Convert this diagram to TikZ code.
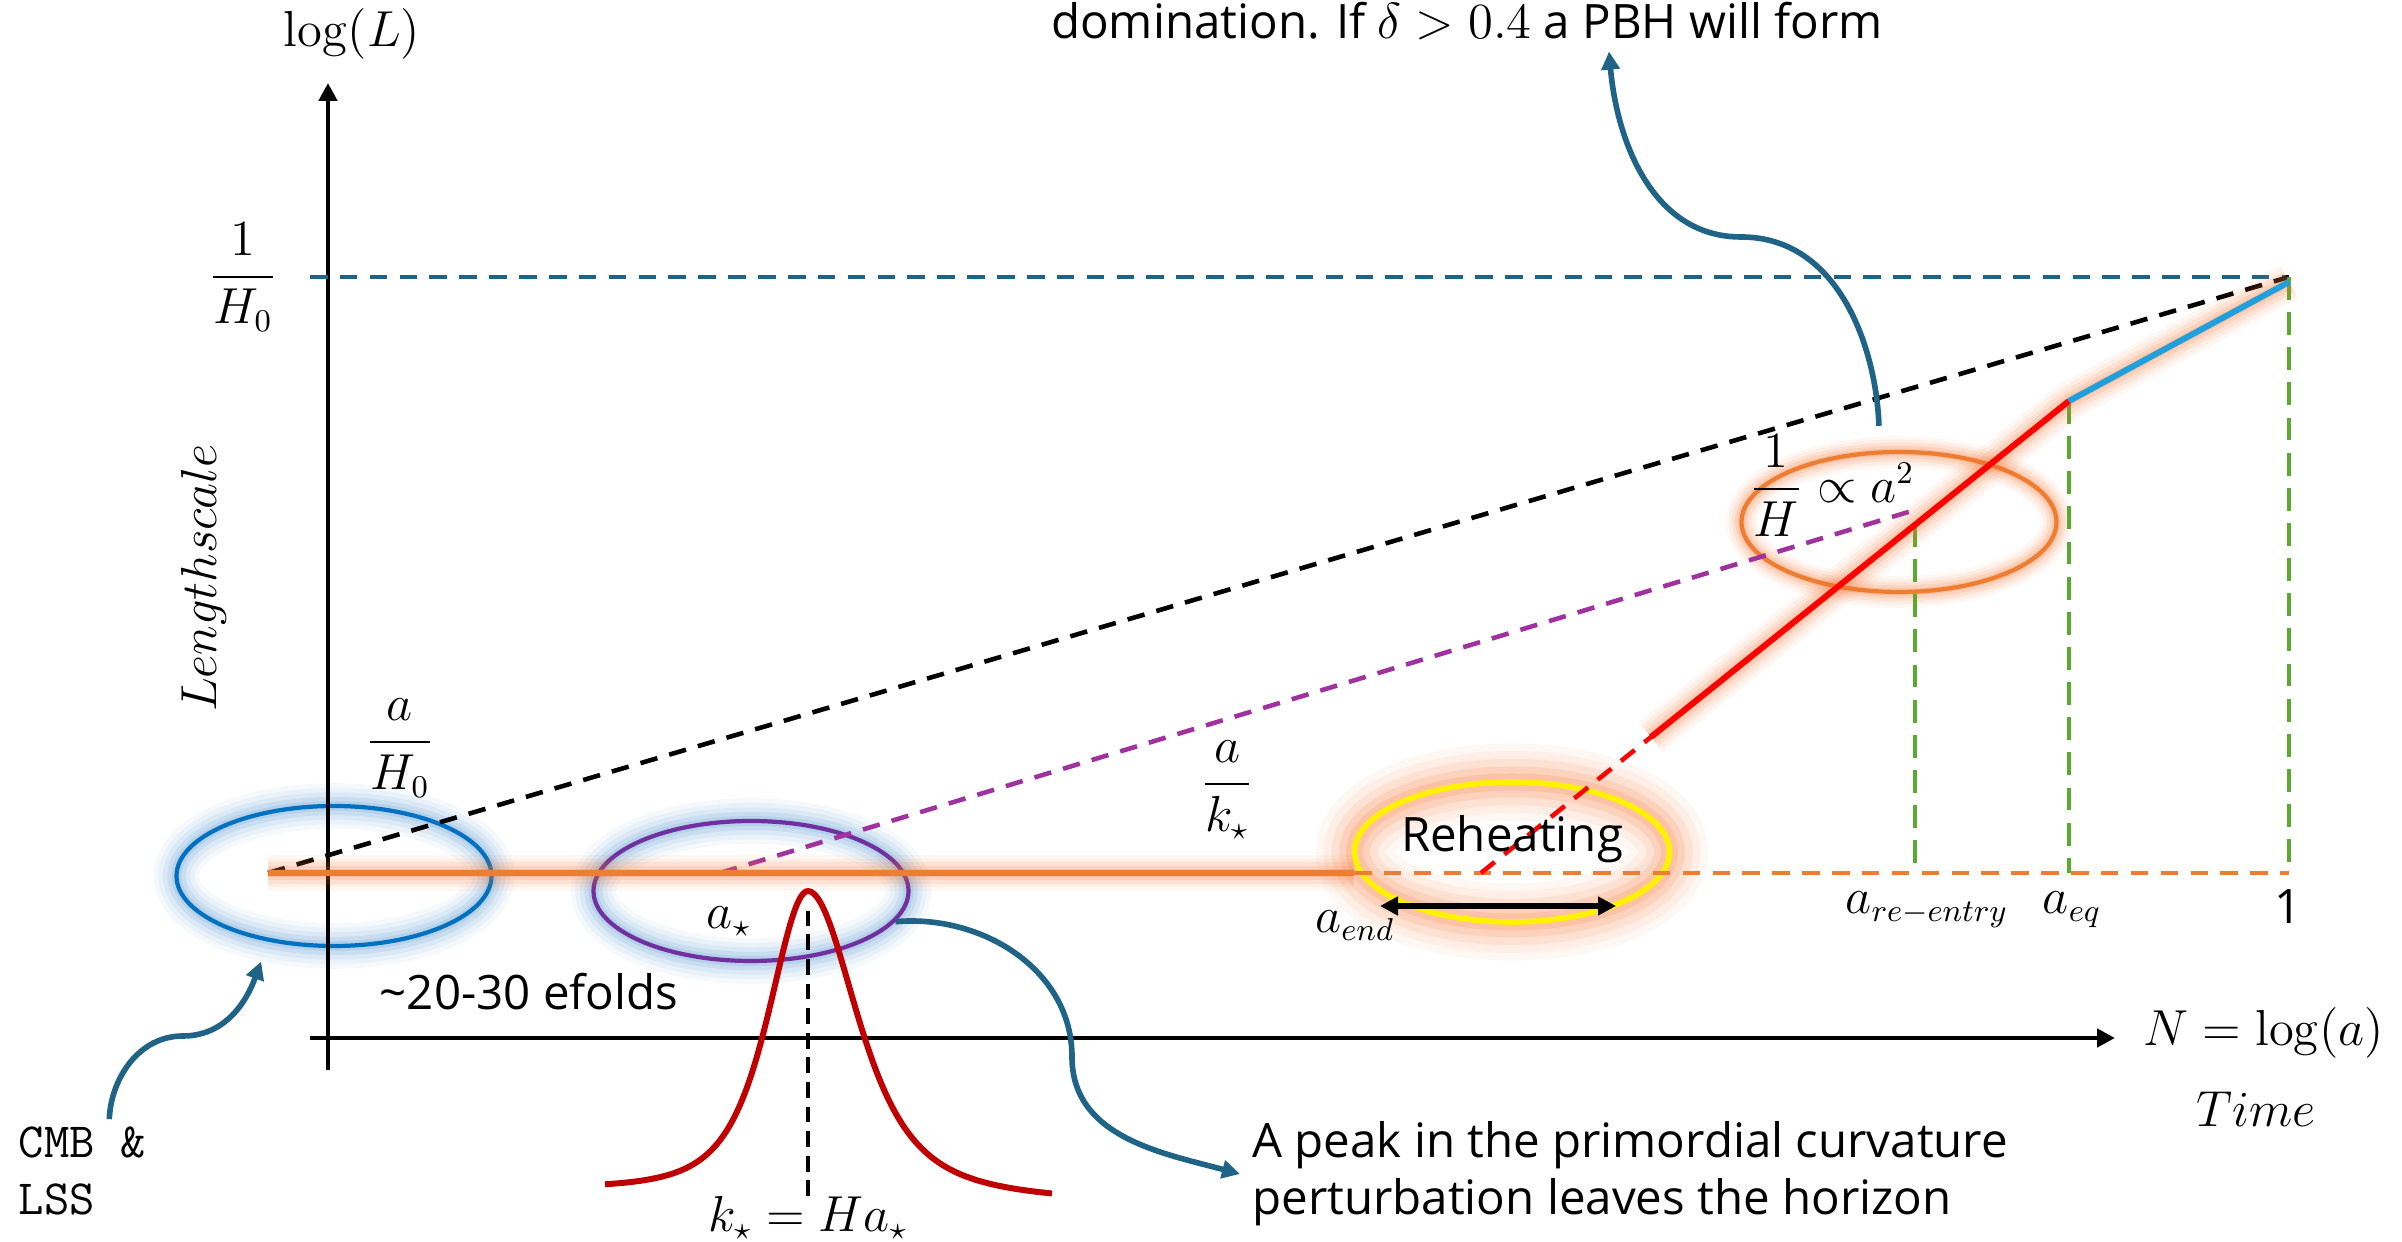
\documentclass[tikz,border=0pt]{standalone}
\usepackage{amsmath, amssymb}
\usepackage[no-math]{fontspec}
\setmainfont{Open Sans}
\usepackage{tikz}
\usetikzlibrary{arrows.meta, positioning, calc, shapes.geometric}

\definecolor{arrowblue}{RGB}{31,99,135}
\definecolor{cmbblue}{RGB}{0,112,192}
\definecolor{glowblue}{RGB}{80,145,205}
\definecolor{peakpurple}{RGB}{112,48,160}
\definecolor{dashpurple}{RGB}{160,50,160}
\definecolor{horizon}{RGB}{237,125,49}
\definecolor{glowor}{RGB}{245,110,40}
\definecolor{radblue}{RGB}{30,160,220}
\definecolor{eqgreen}{RGB}{90,170,50}
\definecolor{peakred}{RGB}{192,0,0}

\begin{document}
\begin{tikzpicture}[
   font=\fontsize{13.5}{16.2}\selectfont,
   >={Triangle[length=1.8mm, width=1.8mm]},
   ring/.style={ellipse, minimum width=3.15cm, minimum height=1.4cm,
                inner sep=0pt, line width=1.2pt},
   glow/.style 2 args={preaction={draw=#1, opacity=.05, line width=#2},
                       preaction={draw=#1, opacity=.07, line width=.8*#2},
                       preaction={draw=#1, opacity=.1, line width=.6*#2},
                       preaction={draw=#1, opacity=.13, line width=.4*#2},
                       preaction={draw=#1, opacity=.16, line width=.22*#2}},
   axis/.style={->, line width=1.4pt},
   guide/.style={line width=1.3pt, dash pattern=on 5pt off 3.5pt},
   drop/.style={eqgreen, line width=1pt, dash pattern=on 6.5pt off 3.5pt},
   callout/.style={->, arrowblue, line width=1.6pt},
   lbl/.style={inner sep=0pt, anchor=base},
   mono/.style={font=\fontsize{14}{16.2}\selectfont\ttfamily},
]
\useasboundingbox (-3.28,-2.04) rectangle (20.74,10.38);

% ---- horizon exit / re-entry circles ----
\node[ring, draw=cmbblue, glow={glowblue}{13pt}] (cmbell) at (0.06,1.62) {};
\node[ring, draw=peakpurple, glow={glowblue}{13pt}] (starell) at (4.23,1.47) {};
\node[ring, draw=yellow, line width=1.6pt, glow={glowor}{22pt}] (reheat) at (11.84,1.86) {};
\node[ring, draw=horizon, glow={glowor}{9pt}] (hubell) at (15.71,5.16) {};

% ---- axes ----
\draw[axis] (0,-0.32) -- (0,9.55);
\draw[axis] (-0.18,0) -- (17.87,0);

% ---- key points ----
\coordinate (start) at (-0.60,1.65);
\coordinate (hend) at (10.26,1.65);
\coordinate (hfar) at (19.61,1.65);
\coordinate (now) at (19.61,7.61);
\coordinate (hzero) at (-0.18,7.61);
\coordinate (pstart) at (3.92,1.65);
\coordinate (pend) at (15.87,5.28);
\coordinate (rh) at (11.53,1.65);
\coordinate (rd) at (13.23,3.01);
\coordinate (eq) at (17.41,6.37);
\coordinate (today) at (19.61,7.56);
\coordinate (reent) at (15.87,5.14);

% ---- comoving scales ----
\draw[guide, arrowblue] (hzero) -- (now);
\draw[guide, black] (start) -- (now);
\draw[guide, dashpurple] (pstart) -- (pend);
\draw[guide, horizon] (hend) -- (hfar);
\draw[drop] (reent) -- (reent |- hfar);
\draw[drop] (eq) -- (eq |- hfar);
\draw[drop] (now) -- (hfar);

% ---- Hubble radius ----
\draw[horizon, line width=1.5pt, glow={glowor}{10pt}] (start) -- (hend);
\draw[guide, red] (rh) -- (rd);
\path[glow={glowor}{11pt}] (rd) -- (eq) -- (today);
\draw[red, line width=1.7pt] (rd) -- (eq);
\draw[radblue, line width=1.7pt] (eq) -- (today);

% ---- curvature peak ----
\draw[peakred, line width=1.7pt, smooth, samples=90, domain=-2.03:2.44]
   plot ({4.80+\x}, {-1.5+2.97/(1+(\x)*(\x)/ifthenelse(\x<0,0.5184,0.81))^2-ifthenelse(\x>0,0.04*\x,0)});

% ---- labels ----
\node[lbl] (logL) at (0.24,9.91) {$\log(L)$};
\node (invH0) at (-0.85,7.61) {$\dfrac{1}{H_0}$};
\node[rotate=90] (lscale) at (-1.24,4.60) {$Lengthscale$};
\node (aH0) at (0.72,2.90) {$\dfrac{a}{H_0}$};
\node[lbl] (astar) at (4.01,1.09) {$a_\star$};
\node (ak) at (8.99,2.48) {$\dfrac{a}{k_\star}$};
\node[lbl] (reheattxt) at (11.84,1.86) {Reheating};
\node[lbl] (aend) at (10.27,1.05) {$a_{end}$};
\node[lbl] (are) at (15.99,1.24) {$a_{re-entry}$};
\node[lbl] (aeq) at (17.44,1.24) {$a_{eq}$};
\node[lbl] (one) at (19.60,1.14) {1};
\node (hlaw) at (15.04,5.52) {$\dfrac{1}{H}\propto a^2$};
\node[lbl] (efolds) at (2.01,0.28) {\textasciitilde20-30 efolds};
\node[lbl] (Nlog) at (19.36,-0.08) {$N=\log(a)$};
\node[lbl] (time) at (19.28,-0.89) {$Time$};
\node[lbl] (kstar) at (4.80,-1.94) {$k_\star = Ha_\star$};
\node[lbl] (pbh) at (11.39,9.99) {domination. If $\delta > 0.4$ a PBH will form};
\node[anchor=west, align=left] (peak) at (9.12,-1.36)
   {A peak in the primordial curvature\\perturbation leaves the horizon};
\node[mono, anchor=west, align=left, inner sep=0pt] (cmb) at (-3.10,-1.33) {CMB \&\\LSS};

% ---- reheating span and k_star ----
\draw[<->, line width=1.5pt] ([shift={(-1.32,-0.54)}]reheat.center) -- ([shift={(1.04,-0.54)}]reheat.center);
\draw[line width=1pt, dash pattern=on 4.5pt off 2.5pt] (kstar.north) -- ++(0,2.85);

% ---- pointers ----
\coordinate (cmbkink) at (-1.45,0.02);
\coordinate (peakkink) at (7.44,-0.19);
\coordinate (pbhkink) at (14.13,8.01);
\draw[callout, shorten <=2pt, shorten >=6pt] ([xshift=0.27cm]cmb.north)
   to[out=88,in=180] (cmbkink) to[out=0,in=250] (cmbell.225);
\draw[callout] (starell.-12) to[out=5,in=90] (peakkink) to[out=270,in=165] (peak.west);
\draw[callout, shorten <=7pt] (hubell.105) to[out=92,in=0] (pbhkink)
   to[out=180,in=275] ([xshift=1.42cm,yshift=-3pt]pbh.south);
\end{tikzpicture}
\end{document}
